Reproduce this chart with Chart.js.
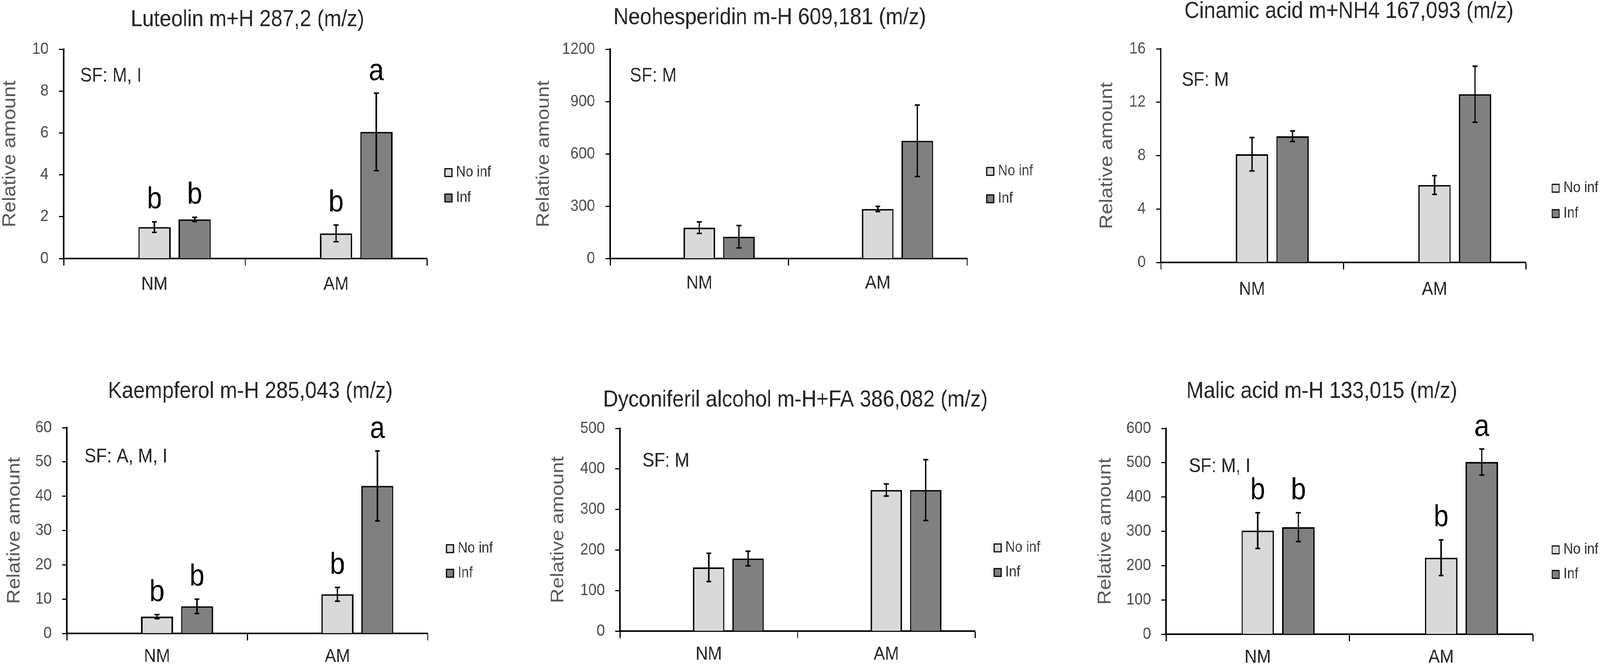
<!DOCTYPE html>
<html>
<head>
<meta charset="utf-8">
<script src="https://cdn.jsdelivr.net/npm/chart.js@4.4.1/dist/chart.umd.min.js"></script>
<style>
  body { margin: 0; background: #fff; overflow: hidden; }
  #page { position: absolute; left: 0; top: 0; width: 4550px; height: 1708px; transform-origin: 0 0; }
  .panel { position: absolute; }
  .panel canvas { display: block; }
</style>
</head>
<body>
<div id="page">
  <div class="panel"><canvas id="c1"></canvas></div>
  <div class="panel"><canvas id="c2"></canvas></div>
  <div class="panel"><canvas id="c3"></canvas></div>
  <div class="panel"><canvas id="c4"></canvas></div>
  <div class="panel"><canvas id="c5"></canvas></div>
  <div class="panel"><canvas id="c6"></canvas></div>
</div>
<script>
// ---- data ----
var categories = ['NM', 'AM'];
var seriesNames = ['No inf', 'Inf'];

// Luteolin
var lutTicks = [0, 2, 4, 6, 8, 10];
var lutNoInf = [1.5, 1.2];
var lutNoInfErr = [0.25, 0.4];
var lutInf = [1.87, 6.05];
var lutInfErr = [0.1, 1.85];
var lutLettersNoInf = ['b', 'b'];
var lutLettersInf = ['b', 'a'];

// Neohesperidin
var neoTicks = [0, 300, 600, 900, 1200];
var neoNoInf = [177, 284];
var neoNoInfErr = [33, 15];
var neoInf = [125, 675];
var neoInfErr = [64, 205];

// Cinamic acid
var cinTicks = [0, 4, 8, 12, 16];
var cinNoInf = [8.1, 5.8];
var cinNoInfErr = [1.25, 0.7];
var cinInf = [9.45, 12.6];
var cinInfErr = [0.4, 2.1];

// Kaempferol
var kaeTicks = [0, 10, 20, 30, 40, 50, 60];
var kaeNoInf = [4.9, 11.4];
var kaeNoInfErr = [0.6, 2.0];
var kaeInf = [7.9, 43];
var kaeInfErr = [2.1, 10.2];
var kaeLettersNoInf = ['b', 'b'];
var kaeLettersInf = ['b', 'a'];

// Dyconiferil alcohol
var dycTicks = [0, 100, 200, 300, 400, 500];
var dycNoInf = [157, 348];
var dycNoInfErr = [35, 15];
var dycInf = [179, 348];
var dycInfErr = [18, 75];

// Malic acid
var malTicks = [0, 100, 200, 300, 400, 500, 600];
var malNoInf = [302, 223];
var malNoInfErr = [52, 52];
var malInf = [312, 502];
var malInfErr = [42, 38];
var malLettersNoInf = ['b', 'b'];
var malLettersInf = ['b', 'a'];

// ---- panel layout (pixels of the 4550x1708 figure) ----
var panels = [
  { id: 'c1', title: 'Luteolin m+H 287,2 (m/z)', sf: 'SF: M, I', ticks: lutTicks,
    noInf: lutNoInf, noInfErr: lutNoInfErr, inf: lutInf, infErr: lutInfErr,
    lettersNoInf: lutLettersNoInf, lettersInf: lutLettersInf,
    left: -3, top: 0, width: 1483, height: 800, yAxisX: 181, axisEnd: 1214, plotTop: 126, zeroY: 662,
    labelPad: 20, titleX: 704, titleY: 51, sfX: 228, sfY: 195, legendX: 1265, legendY: [442, 507] },
  { id: 'c2', title: 'Neohesperidin m-H 609,181 (m/z)', sf: 'SF: M', ticks: neoTicks,
    noInf: neoNoInf, noInfErr: neoNoInfErr, inf: neoInf, infErr: neoInfErr,
    left: 1515, top: 0, width: 1565, height: 800, yAxisX: 1735, axisEnd: 2750, plotTop: 126, zeroY: 662,
    labelPad: 17, titleX: 2189, titleY: 46, sfX: 1791, sfY: 195, legendX: 2806, legendY: [439, 509] },
  { id: 'c3', title: 'Cinamic acid m+NH4 167,093 (m/z)', sf: 'SF: M', ticks: cinTicks,
    noInf: cinNoInf, noInfErr: cinNoInfErr, inf: cinInf, infErr: cinInfErr,
    left: 3117, top: 0, width: 1433, height: 800, yAxisX: 3301, axisEnd: 4339, plotTop: 125, zeroY: 672,
    labelPad: 23, titleX: 3836, titleY: 30, sfX: 3361, sfY: 206, legendX: 4414, legendY: [482, 547] },
  { id: 'c4', title: 'Kaempferol m-H 285,043 (m/z)', sf: 'SF: A, M, I', ticks: kaeTicks,
    noInf: kaeNoInf, noInfErr: kaeNoInfErr, inf: kaeInf, infErr: kaeInfErr,
    lettersNoInf: kaeLettersNoInf, lettersInf: kaeLettersInf,
    left: 10, top: 860, width: 1470, height: 848, yAxisX: 190, axisEnd: 1216, plotTop: 1095, zeroY: 1622,
    labelPad: 13, titleX: 712, titleY: 1003, sfX: 240, sfY: 1170, legendX: 1270, legendY: [1405, 1468] },
  { id: 'c5', title: 'Dyconiferil alcohol m-H+FA 386,082 (m/z)', sf: 'SF: M', ticks: dycTicks,
    noInf: dycNoInf, noInfErr: dycNoInfErr, inf: dycInf, infErr: dycInfErr,
    left: 1556, top: 860, width: 1524, height: 848, yAxisX: 1763, axisEnd: 2773, plotTop: 1097, zeroY: 1616,
    labelPad: 13, titleX: 2262, titleY: 1025, sfX: 1827, sfY: 1181, legendX: 2827, legendY: [1403, 1466] },
  { id: 'c6', title: 'Malic acid m-H 133,015 (m/z)', sf: 'SF: M, I', ticks: malTicks,
    noInf: malNoInf, noInfErr: malNoInfErr, inf: malInf, infErr: malInfErr,
    lettersNoInf: malLettersNoInf, lettersInf: malLettersInf,
    left: 3112, top: 860, width: 1438, height: 848, yAxisX: 3316, axisEnd: 4359, plotTop: 1097, zeroY: 1624,
    labelPad: 13, titleX: 3759, titleY: 1003, sfX: 3381, sfY: 1195, legendX: 4414, legendY: [1408, 1471] }
];

// the viewport can be narrower than the figure: squeeze the whole page to fit
var page = document.getElementById('page');
var sx = Math.min(1, window.innerWidth / 4550);
page.style.transform = 'scale(' + sx + ', 1)';

var FONT = "'Liberation Sans', Arial, sans-serif";
Chart.defaults.font.family = FONT;

// error bars + significance letters, drawn from the data through the y scale
var errorBars = {
  id: 'errorBars',
  afterDatasetsDraw: function(chart) {
    var ctx = chart.ctx, y = chart.scales.y;
    ctx.save();
    chart.data.datasets.forEach(function(ds, i) {
      if (!ds.err) return;
      chart.getDatasetMeta(i).data.forEach(function(bar, j) {
        var v = ds.data[j], e = ds.err[j];
        var top = y.getPixelForValue(v + e), bot = y.getPixelForValue(v - e);
        ctx.strokeStyle = '#000';
        ctx.lineWidth = 4;
        ctx.beginPath();
        ctx.moveTo(bar.x, top); ctx.lineTo(bar.x, bot);
        ctx.moveTo(bar.x - 7, top); ctx.lineTo(bar.x + 7, top);
        ctx.moveTo(bar.x - 7, bot); ctx.lineTo(bar.x + 7, bot);
        ctx.stroke();
        if (ds.letters) {
          ctx.fillStyle = '#000';
          ctx.font = '77px ' + FONT;
          ctx.textAlign = 'center';
          ctx.textBaseline = 'alphabetic';
          ctx.fillText(ds.letters[j], bar.x, top - 34);
        }
      });
    });
    ctx.restore();
  }
};

// title, SF note and legend of each panel
var panelText = {
  id: 'panelText',
  afterDraw: function(chart, args, o) {
    var p = o.panel, ctx = chart.ctx;
    ctx.save();
    ctx.fillStyle = '#262626';
    ctx.font = '59px ' + FONT;
    ctx.textAlign = 'center';
    ctx.textBaseline = 'middle';
    ctx.fillText(p.title, p.titleX - p.left, p.titleY - p.top);

    ctx.font = '50px ' + FONT;
    ctx.textAlign = 'left';
    ctx.fillText(p.sf, p.sfX - p.left, p.sfY - p.top);

    ctx.font = '38px ' + FONT;
    [1, 2].forEach(function(i, k) {
      var ds = chart.data.datasets[i];
      var bx = p.legendX - p.left, by = p.legendY[k] - p.top;
      ctx.fillStyle = ds.backgroundColor;
      ctx.fillRect(bx, by - 10, 20, 20);
      ctx.strokeStyle = '#000';
      ctx.lineWidth = 3;
      ctx.strokeRect(bx, by - 10, 20, 20);
      ctx.fillStyle = '#333';
      ctx.fillText(ds.label, bx + 32, by);
    });
    ctx.restore();
  }
};

panels.forEach(function(p) {
  var canvas = document.getElementById(p.id);
  var wrap = canvas.parentNode;
  wrap.style.left = p.left + 'px';
  wrap.style.top = p.top + 'px';
  canvas.width = p.width;
  canvas.height = p.height;
  canvas.style.width = p.width + 'px';
  canvas.style.height = p.height + 'px';

  var ticks = p.ticks;
  new Chart(canvas, {
    type: 'bar',
    data: {
      labels: categories,
      datasets: [
        // empty first slot, as in the original spreadsheet chart
        { label: '', data: [null, null], backgroundColor: 'rgba(0,0,0,0)' },
        { label: seriesNames[0], data: p.noInf, err: p.noInfErr, letters: p.lettersNoInf,
          backgroundColor: '#d9d9d9', borderColor: '#000', borderWidth: 4 },
        { label: seriesNames[1], data: p.inf, err: p.infErr, letters: p.lettersInf,
          backgroundColor: '#808080', borderColor: '#000', borderWidth: 4 }
      ]
    },
    options: {
      responsive: false,
      animation: false,
      devicePixelRatio: 1,
      events: [],
      categoryPercentage: 0.665,
      barPercentage: 0.8,
      layout: {
        padding: { left: 0, top: p.plotTop - p.top, right: p.left + p.width - p.axisEnd, bottom: 0 }
      },
      plugins: {
        legend: { display: false },
        tooltip: { enabled: false },
        title: { display: false },
        panelText: { panel: p }
      },
      scales: {
        x: {
          grid: { display: true, drawOnChartArea: false, drawTicks: true, tickLength: 18,
                  tickColor: '#000', tickWidth: 3, offset: true },
          border: { display: true, color: '#000', width: 4 },
          ticks: { color: '#262626', font: { size: 48 }, padding: p.labelPad, maxRotation: 0 },
          afterFit: function(s) { s.height = p.top + p.height - p.zeroY; }
        },
        y: {
          min: ticks[0],
          max: ticks[ticks.length - 1],
          grid: { display: true, drawOnChartArea: false, drawTicks: true, tickLength: 13,
                  tickColor: '#000', tickWidth: 3 },
          border: { display: true, color: '#000', width: 4 },
          ticks: { stepSize: ticks[1] - ticks[0], color: '#4d4d4d', font: { size: 42 }, padding: 30,
                   callback: function(v) { return String(v); } },
          title: { display: true, text: 'Relative amount', color: '#595959',
                   font: { size: 52 }, padding: 0 },
          afterFit: function(s) { s.width = p.yAxisX - p.left; }
        }
      }
    },
    plugins: [errorBars, panelText]
  });
});
</script>
</body>
</html>
